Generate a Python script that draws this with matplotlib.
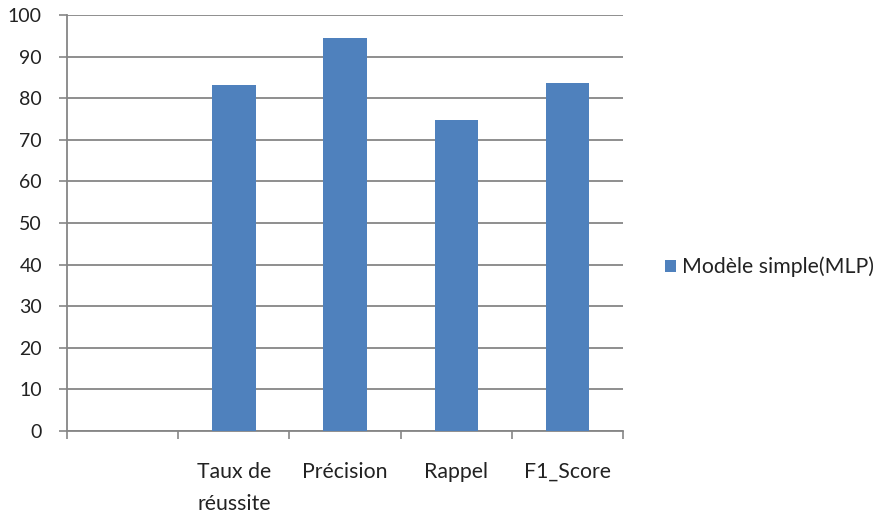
import matplotlib
matplotlib.use("Agg")
import matplotlib.pyplot as plt
from matplotlib.patches import Patch

categories = ["", "Taux de\nréussite", "Précision", "Rappel", "F1_Score"]
values = [0, 83.1, 94.6, 74.7, 83.6]
series_name = "Modèle simple(MLP)"
y_ticks = list(range(0, 101, 10))

plt.rcParams["font.family"] = ["Lato", "DejaVu Sans"]

fig = plt.figure(figsize=(8.8, 5.17), dpi=100)
ax = fig.add_axes([0.0761, 0.1663, 0.632, 0.8046])

bar_color = "#4F81BD"
grid_color = "#868686"
text_color = "#222222"
fs_y = 14
fs = 15.3

x = list(range(len(categories)))
heights = [v if c else 0 for c, v in zip(categories, values)]
ax.bar(x, heights, width=0.39, color=bar_color, zorder=3)

ax.set_xlim(-0.5, len(categories) - 0.5)
ax.set_ylim(0, 100)
ax.set_yticks(y_ticks)
ax.set_yticklabels([str(t) for t in y_ticks], fontsize=fs_y, color=text_color)
ax.yaxis.grid(True, color=grid_color, linewidth=1.3, zorder=0)
ax.set_axisbelow(True)

# category labels centred, tick marks on category boundaries
ax.set_xticks(x)
ax.set_xticklabels(categories, fontsize=fs, color=text_color, linespacing=1.75, va="top")
ax.tick_params(axis="x", which="major", length=0, pad=22)
ax.set_xticks([i - 0.5 for i in range(len(categories) + 1)], minor=True)
ax.tick_params(axis="x", which="minor", length=6, color=grid_color, width=1.2)
ax.tick_params(axis="y", length=6, color=grid_color, width=1.2, pad=12)

for side in ["top", "right"]:
    ax.spines[side].set_visible(False)
for side in ["left", "bottom"]:
    ax.spines[side].set_color(grid_color)
    ax.spines[side].set_linewidth(1.3)

handle = Patch(facecolor=bar_color, edgecolor="none")
fig.legend([handle], [series_name], loc="center left", bbox_to_anchor=(0.756, 0.4836),
           frameon=False, fontsize=fs, handlelength=0.5, handleheight=0.5,
           handletextpad=0.3, borderpad=0, borderaxespad=0, labelcolor=text_color)

fig.savefig("out.png", dpi=100, facecolor="white")
